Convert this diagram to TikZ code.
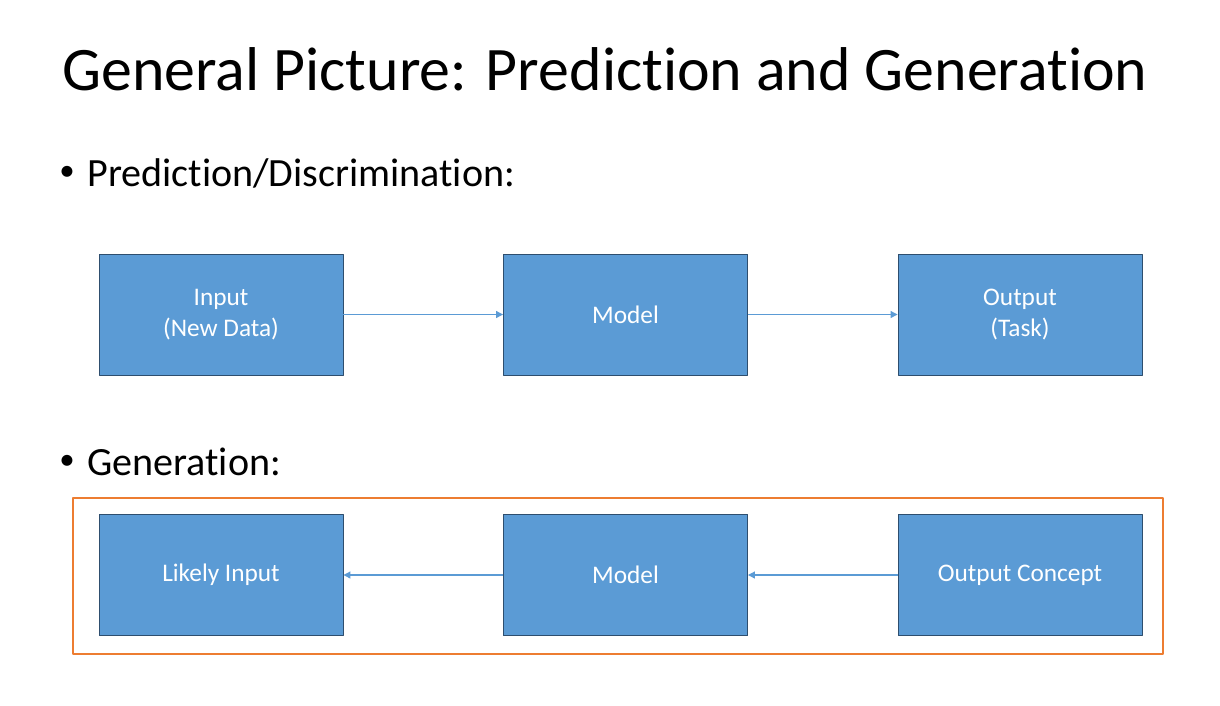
\documentclass[tikz,border=0pt]{standalone}
\usepackage{fontspec}
\setmainfont{Carlito}[Ligatures=NoCommon]
\usetikzlibrary{arrows.meta}
\definecolor{boxblue}{HTML}{5B9BD5}
\definecolor{boxedge}{HTML}{2E4E6E}
\definecolor{frameorange}{HTML}{ED7D31}
\tikzset{
  stagebox/.style={draw=boxedge, line width=0.6pt, fill=boxblue, text=white,
    minimum width=6.1cm, minimum height=3.025cm, align=center,
    inner sep=0pt, font=\fontsize{18}{22.5}\selectfont},
  flow/.style={draw=boxblue, line width=0.8pt, -{Triangle[length=5pt,width=5pt]}},
  bullettext/.style={anchor=base west, font=\fontsize{28.5}{34}\selectfont, inner sep=0pt},
  bulletdot/.style={anchor=center, font=\fontsize{22}{26}\selectfont, inner sep=0pt}
}
\begin{document}
\begin{tikzpicture}[x=0.025cm, y=-0.025cm, line join=round]
  \useasboundingbox[fill=white] (0,0) rectangle (1220,705);
  % title and bullets
  \node[anchor=base west, inner sep=0pt, font=\fontsize{44}{52}\selectfont] (title) at (62,90) {General Picture: Prediction and Generation};
  \node[bullettext] (pred) at (87,186) {Prediction/Discrimination:};
  \node[bulletdot] (dota) at (67,173) {•};
  \node[bullettext] (gen) at (87,475) {Generation:};
  \node[bulletdot] (dotb) at (67,462) {•};
  % prediction row
  \node[stagebox] (input) at (221,314.5) {Input\\(New Data)};
  \node[stagebox] (modela) at (625.5,314.5) {Model};
  \node[stagebox] (output) at (1020,314.5) {Output\\(Task)};
  \draw[flow] (input) -- (modela);
  \draw[flow] (modela) -- (output);
  % generation row
  \draw[frameorange, line width=1.5pt] (73,498) rectangle (1163,654);
  \node[stagebox] (likely) at (221,575) {Likely Input};
  \node[stagebox] (modelb) at (625.5,575) {Model};
  \node[stagebox] (concept) at (1020,575) {Output Concept};
  \draw[flow] (concept) -- (modelb);
  \draw[flow] (modelb) -- (likely);
\end{tikzpicture}
\end{document}
